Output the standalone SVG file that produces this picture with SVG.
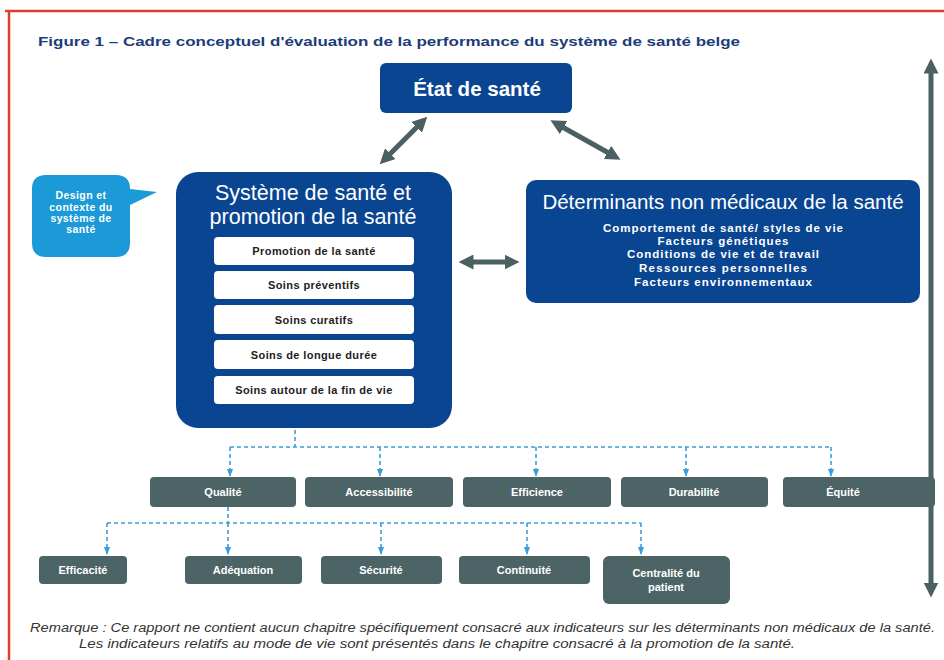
<svg xmlns="http://www.w3.org/2000/svg" width="944" height="660" viewBox="0 0 944 660">
<style>
.t{font-family:"Liberation Sans",Arial,sans-serif}
.title{font-size:13.5px;font-weight:bold;fill:#1d3c78}
.blue{fill:#0a4592}
.wt{fill:#ffffff;text-anchor:middle}
.inner{fill:#ffffff}
.it{font-size:11px;font-weight:bold;fill:#222;text-anchor:middle;letter-spacing:0.4px}
.dim{fill:#4d6466}
.dt{font-size:11px;font-weight:bold;fill:#ffffff;text-anchor:middle}
.ar{stroke:#4b6062;stroke-width:5;fill:none}
.da{stroke:#3a9fd8;stroke-width:1.6;stroke-dasharray:4 3;fill:none}
.rem{font-size:12px;font-style:italic;fill:#333}
.sub{font-size:11.5px;font-weight:bold}
</style>
<defs>
<marker id="ah" viewBox="0 0 10 10" refX="5" refY="5" markerWidth="3" markerHeight="3" orient="auto-start-reverse"><path d="M0,0 L10,5 L0,10 z" fill="#4b6062"/></marker>
<marker id="dh" viewBox="0 0 10 10" refX="9" refY="5" markerWidth="5" markerHeight="5" orient="auto"><path d="M0,1 L10,5 L0,9 z" fill="#3a9fd8"/></marker>
</defs>
<rect width="944" height="660" fill="#ffffff"/>
<path d="M5,11 H944 M9,11 V660" stroke="#d9402e" stroke-width="2.5" fill="none"/>
<text class="t title" x="38" y="46" textLength="702" lengthAdjust="spacingAndGlyphs">Figure 1 – Cadre conceptuel d'évaluation de la performance du système de santé belge</text>

<g id="connectors">
<line class="ar" x1="931" y1="66" x2="931" y2="590" marker-start="url(#ah)" marker-end="url(#ah)"/>
<line class="ar" x1="422" y1="122" x2="385" y2="159" marker-start="url(#ah)" marker-end="url(#ah)"/>
<line class="ar" x1="557" y1="124" x2="614" y2="156" marker-start="url(#ah)" marker-end="url(#ah)"/>
<line class="ar" x1="466" y1="262" x2="512" y2="262" marker-start="url(#ah)" marker-end="url(#ah)"/>
<path class="da" d="M295,430 V447"/>
<path class="da" d="M230,447 H831"/>
<path class="da" d="M230,447 V476" marker-end="url(#dh)"/>
<path class="da" d="M380,447 V476" marker-end="url(#dh)"/>
<path class="da" d="M536,447 V476" marker-end="url(#dh)"/>
<path class="da" d="M686,447 V476" marker-end="url(#dh)"/>
<path class="da" d="M831,447 V476" marker-end="url(#dh)"/>
<path class="da" d="M228,507 V523"/>
<path class="da" d="M107,523 H641"/>
<path class="da" d="M107,523 V554" marker-end="url(#dh)"/>
<path class="da" d="M228,523 V554" marker-end="url(#dh)"/>
<path class="da" d="M381,523 V554" marker-end="url(#dh)"/>
<path class="da" d="M527,523 V554" marker-end="url(#dh)"/>
<path class="da" d="M641,523 V554" marker-end="url(#dh)"/>
</g>

<g id="etat">
<rect class="blue" x="380" y="63" width="192" height="50" rx="6"/>
<text class="t wt" x="477" y="96" font-size="20.5" font-weight="bold">État de santé</text>
</g>

<g id="design">
<path d="M46,175 H116 Q130,175 130,189 L157,192 L130,205 V243 Q130,257 116,257 H46 Q32,257 32,243 V189 Q32,175 46,175 Z" fill="#1b9ad7"/>
<text class="t wt" font-size="10.5" font-weight="bold" letter-spacing="0.4"><tspan x="81" y="199">Design et</tspan><tspan x="81" y="211">contexte du</tspan><tspan x="81" y="222">système de</tspan><tspan x="81" y="233">santé</tspan></text>
</g>

<g id="systeme">
<rect class="blue" x="176" y="172" width="276" height="256" rx="22"/>
<text class="t wt" font-size="21.5"><tspan x="313" y="200">Système de santé et</tspan><tspan x="313" y="224">promotion de la santé</tspan></text>
<rect class="inner" x="214" y="237" width="200" height="28" rx="4"/>
<text class="t it" x="314" y="255">Promotion de la santé</text>
<rect class="inner" x="214" y="271" width="200" height="28" rx="4"/>
<text class="t it" x="314" y="289">Soins préventifs</text>
<rect class="inner" x="214" y="305" width="200" height="29" rx="4"/>
<text class="t it" x="314" y="324">Soins curatifs</text>
<rect class="inner" x="214" y="340" width="200" height="29" rx="4"/>
<text class="t it" x="314" y="359">Soins de longue durée</text>
<rect class="inner" x="214" y="376" width="200" height="28" rx="4"/>
<text class="t it" x="314" y="394">Soins autour de la fin de vie</text>
</g>

<g id="determinants">
<rect class="blue" x="526" y="180" width="394" height="123" rx="10"/>
<text class="t wt" x="723" y="209" font-size="20.5">Déterminants non médicaux de la santé</text>
<text class="t wt sub" x="723" y="232" textLength="240" lengthAdjust="spacing">Comportement de santé/ styles de vie</text>
<text class="t wt sub" x="723" y="245" textLength="131" lengthAdjust="spacing">Facteurs génétiques</text>
<text class="t wt sub" x="723" y="258" textLength="192" lengthAdjust="spacing">Conditions de vie et de travail</text>
<text class="t wt sub" x="723" y="272" textLength="168" lengthAdjust="spacing">Ressources personnelles</text>
<text class="t wt sub" x="723" y="286" textLength="178" lengthAdjust="spacing">Facteurs environnementaux</text>
</g>

<g id="qualite"><rect class="dim" x="150" y="477" width="146" height="30" rx="4"/><text class="t dt" x="223" y="496">Qualité</text></g>
<g id="accessibilite"><rect class="dim" x="305" y="477" width="148" height="30" rx="4"/><text class="t dt" x="379" y="496">Accessibilité</text></g>
<g id="efficience"><rect class="dim" x="463" y="477" width="148" height="30" rx="4"/><text class="t dt" x="537" y="496">Efficience</text></g>
<g id="durabilite"><rect class="dim" x="621" y="477" width="147" height="30" rx="4"/><text class="t dt" x="694" y="496">Durabilité</text></g>
<g id="equite"><rect class="dim" x="783" y="477" width="152" height="30" rx="4"/><text class="t dt" x="843" y="496">Équité</text></g>

<g id="efficacite"><rect class="dim" x="39" y="556" width="88" height="28" rx="4"/><text class="t dt" x="83" y="574">Efficacité</text></g>
<g id="adequation"><rect class="dim" x="185" y="556" width="117" height="28" rx="4"/><text class="t dt" x="243" y="574">Adéquation</text></g>
<g id="securite"><rect class="dim" x="321" y="556" width="121" height="28" rx="4"/><text class="t dt" x="381" y="574">Sécurité</text></g>
<g id="continuite"><rect class="dim" x="459" y="556" width="131" height="28" rx="4"/><text class="t dt" x="524" y="574">Continuité</text></g>
<g id="centralite"><rect class="dim" x="603" y="556" width="127" height="48" rx="6"/><text class="t dt"><tspan x="666" y="577">Centralité du</tspan><tspan x="666" y="591">patient</tspan></text></g>

<text class="t rem" x="30" y="632" textLength="905" lengthAdjust="spacingAndGlyphs">Remarque : Ce rapport ne contient aucun chapitre spécifiquement consacré aux indicateurs sur les déterminants non médicaux de la santé.</text>
<text class="t rem" x="79" y="648" textLength="716" lengthAdjust="spacingAndGlyphs">Les indicateurs relatifs au mode de vie sont présentés dans le chapitre consacré à la promotion de la santé.</text>
</svg>
